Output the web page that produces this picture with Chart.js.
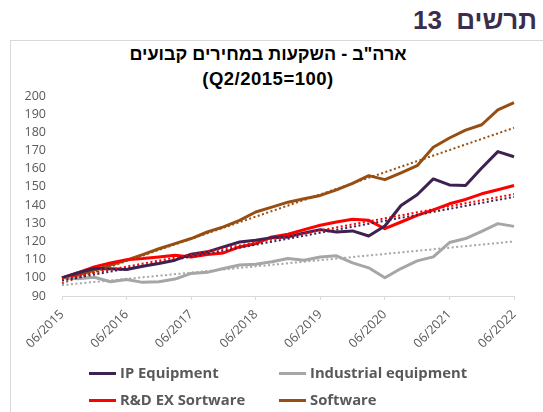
<!DOCTYPE html>
<html><head><meta charset="utf-8">
<script src="https://cdn.jsdelivr.net/npm/chart.js@4.4.1/dist/chart.umd.min.js"></script>
<style>
html,body{margin:0;padding:0;background:#fff;}
#wrap{position:relative;width:543px;height:412px;overflow:hidden;background:#fff;}
#heading{position:absolute;right:6px;top:5px;font:bold 26px "Liberation Sans",Arial,sans-serif;color:#3b2d4d;direction:rtl;white-space:pre;}
#box{position:absolute;left:10px;top:40px;width:600px;height:400px;border-left:1px solid #d9d9d9;border-top:1px solid #d9d9d9;}
.t{position:absolute;left:0;width:536px;text-align:center;font:bold 18px "Liberation Sans",Arial,sans-serif;color:#000;line-height:21px;}
#t1{top:44px;direction:rtl;}
#t2{top:68px;font-size:18.5px;letter-spacing:0.5px;}
canvas{position:absolute;left:0;top:0;}
.lg{position:absolute;font:bold 14.8px "Open Sans",sans-serif;color:#595959;white-space:nowrap;line-height:18px;}
.sw{display:inline-block;width:27px;height:3px;vertical-align:middle;margin-right:4px;position:relative;top:-1px;}
</style></head>
<body><div id="wrap">
<div id="box"></div>
<div id="heading">תרשים  13</div>
<div class="t" id="t1">ארה"ב - השקעות במחירים קבועים</div>
<div class="t" id="t2">(Q2/2015=100)</div>
<canvas id="c" width="543" height="412"></canvas>
<div id="legend"></div>
</div>
<script>
const quarters = ['06/2015','09/2015','12/2015','03/2016','06/2016','09/2016','12/2016','03/2017','06/2017','09/2017','12/2017','03/2018','06/2018','09/2018','12/2018','03/2019','06/2019','09/2019','12/2019','03/2020','06/2020','09/2020','12/2020','03/2021','06/2021','09/2021','12/2021','03/2022','06/2022'];
const seriesNames = ['IP Equipment','Industrial equipment','R&D EX Sortware','Software'];
const ipEquipment = [100,102.8,105.1,105,104.6,106.4,107.9,109.7,113,114.3,117,119.7,120.7,122.1,122.5,124.7,126.5,125.2,125.8,123,128.5,139.8,145.7,154.4,151.1,150.8,160.4,169.4,166.6];
const industrial = [100,99.5,100.3,97.8,99.1,97.5,97.8,99.3,102.4,103,105.1,107,107.5,108.8,110.6,109.7,111.5,112.1,108.2,105.5,100,105.1,109.3,111.5,119.4,121.6,125.6,129.8,128.3];
const rdExSoftware = [100,102.8,106,108.2,110,110.6,111.5,112.4,111.5,112.8,113.7,117,118.8,122.5,124,126.5,128.9,130.7,132.2,131.6,127,130.7,134.3,137.4,140.7,143.1,146.2,148.4,150.8];
const software = [100,101.5,104.2,107,109.7,112.8,116,118.8,121.6,125.2,128,131.6,136.2,138.9,141.6,143.5,145.3,148.4,152,156.2,154,157.7,161.7,171.8,176.9,181.2,184.2,192.4,196.4];
// trend line end values (first and last quarter)
const ipTrend = [98.5, 144.5];
const industrialTrend = [96, 120];
const rdTrend = [99.5, 146];
const softwareTrend = [97, 182.5];
const yTicks = [90,100,110,120,130,140,150,160,170,180,190,200];

const colors = ['#3f2150','#a6a6a6','#ff0000','#974e13'];
const seriesData = [ipEquipment, industrial, rdExSoftware, software];
const trends = [ipTrend, industrialTrend, rdTrend, softwareTrend];

function trendData(t){
  return quarters.map((q,i)=> i===0 ? t[0] : (i===quarters.length-1 ? t[1] : null));
}
const datasets = [];
trends.forEach((t,k)=>{
  datasets.push({label:seriesNames[k]+' trend', data:trendData(t), borderColor:colors[k], borderWidth:2, borderDash:[2,2.5], spanGaps:true, pointRadius:0, fill:false, order:0});
});
seriesData.forEach((d,k)=>{
  datasets.push({label:seriesNames[k], data:d, borderColor:colors[k], borderWidth:3, pointRadius:0, fill:false, order:1});
});

new Chart(document.getElementById('c'), {
  type:'line',
  data:{labels:quarters, datasets},
  options:{
    responsive:false, animation:false, devicePixelRatio:1,
    layout:{padding:{top:96,left:0,right:29,bottom:0}},
    plugins:{legend:{display:false}, tooltip:{enabled:false}, title:{display:false}},
    elements:{line:{tension:0, borderCapStyle:'butt', borderJoinStyle:'round'}, point:{radius:0}},
    scales:{
      x:{
        offset:false,
        grid:{drawOnChartArea:false, tickLength:4, color:(c)=> (c.index%4===0 ? '#d9d9d9' : 'rgba(0,0,0,0)')},
        border:{color:'#d9d9d9'},
        ticks:{autoSkip:false, minRotation:45, maxRotation:45, padding:7, color:'#595959', font:{family:'"Open Sans"', size:12.5},
          callback:(v,i)=> (i%4===0 ? quarters[i] : '')},
        afterFit:(s)=>{ s.height = 116; }
      },
      y:{
        min:90, max:200,
        afterBuildTicks:(s)=>{ s.ticks = yTicks.map(v=>({value:v})); },
        grid:{display:false}, border:{display:false},
        ticks:{padding:8, color:'#595959', font:{family:'"Open Sans"', size:12.5}},
        afterFit:(s)=>{ s.width = 62; }
      }
    }
  }
});

// legend (2 x 2 grid)
const pos = [[89,363],[279,363],[89,390],[279,390]];
const lg = document.getElementById('legend');
seriesNames.forEach((n,k)=>{
  const d = document.createElement('div');
  d.className='lg'; d.style.left=pos[k][0]+'px'; d.style.top=pos[k][1]+'px';
  const s = document.createElement('span'); s.className='sw'; s.style.background=colors[k];
  d.appendChild(s); d.appendChild(document.createTextNode(n));
  lg.appendChild(d);
});
</script>
</body></html>
